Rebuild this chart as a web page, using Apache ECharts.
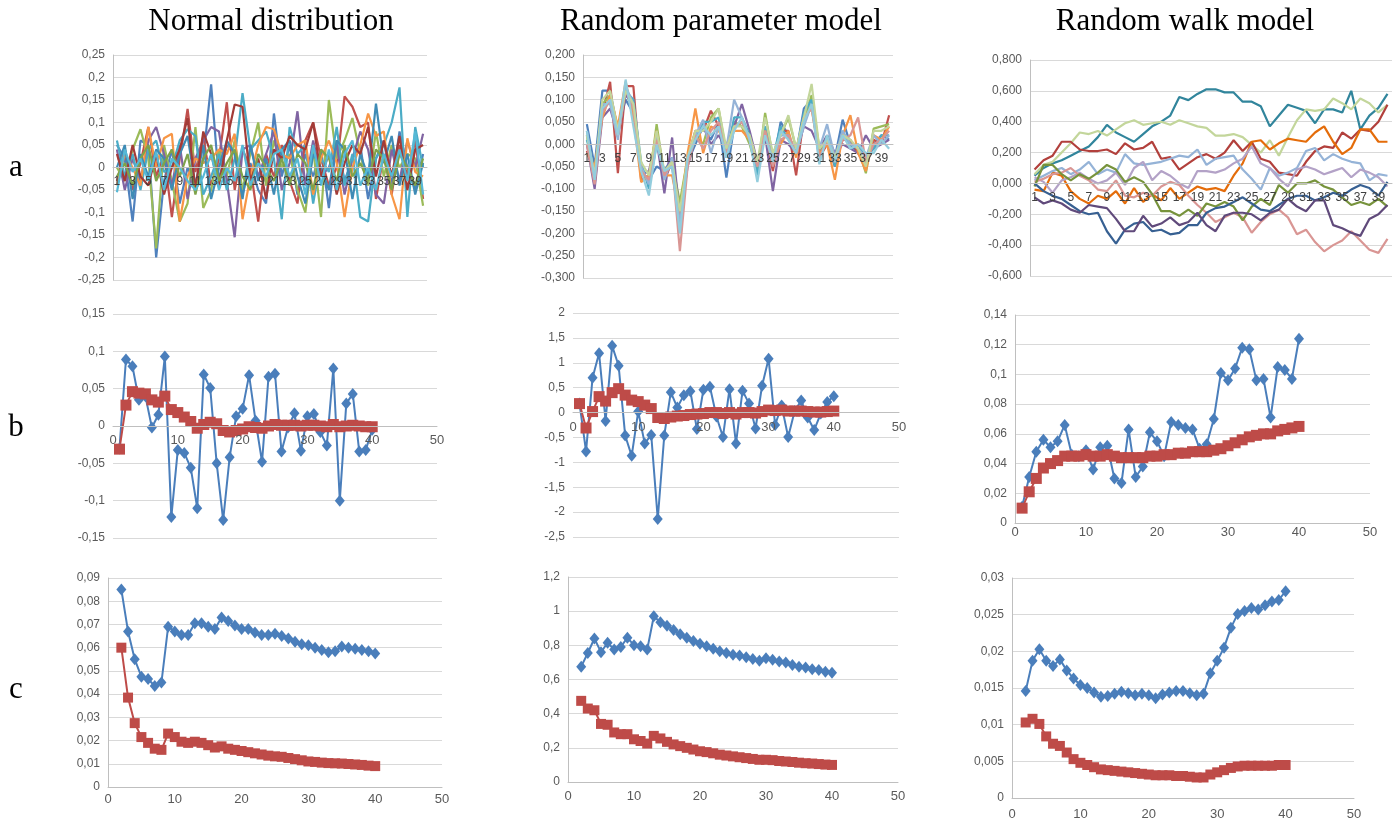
<!DOCTYPE html>
<html>
<head>
<meta charset="utf-8">
<script src="https://cdn.jsdelivr.net/npm/echarts@6/dist/echarts.min.js"></script>
<style>
  html, body { margin: 0; padding: 0; background: #fff; }
  #chart { width: 1395px; height: 821px; }
</style>
</head>
<body>
<div id="chart"></div>
<script>
// ---- categories / lags ----
var steps = ['1','2','3','4','5','6','7','8','9','10','11','12','13','14','15','16','17','18','19','20',
             '21','22','23','24','25','26','27','28','29','30','31','32','33','34','35','36','37','38','39','40'];
var lagsB = [1,2,3,4,5,6,7,8,9,10,11,12,13,14,15,16,17,18,19,20,21,22,23,24,25,26,27,28,29,30,31,32,33,34,35,36,37,38,39,40];
var lagsC = [2,3,4,5,6,7,8,9,10,11,12,13,14,15,16,17,18,19,20,21,22,23,24,25,26,27,28,29,30,31,32,33,34,35,36,37,38,39,40];

var titles = ['Normal distribution', 'Random parameter model', 'Random walk model'];
var rowNames = ['a', 'b', 'c'];

// ---- row a: simulated paths ----
var normA1 = [0.05,0.02,-0.12,0.06,0.05,-0.20,-0.03,0.04,-0.08,0.0,-0.04,0.02,0.185,-0.03,0.05,0.03,-0.06,0.01,-0.05,-0.08,0.12,-0.02,0.05,-0.06,0.03,-0.02,0.04,-0.09,0.06,-0.03,0.02,0.05,-0.07,0.02,0.06,-0.04,0.08,0.0,-0.05,0.03];
var normA2 = [-0.03,0.04,-0.05,0.01,0.09,-0.02,0.03,-0.11,0.02,0.13,-0.01,0.07,-0.04,0.02,0.145,-0.05,0.04,0.0,-0.12,0.03,-0.02,0.05,-0.03,-0.08,0.06,0.10,0.02,-0.04,0.0,0.158,0.135,0.09,0.10,-0.07,0.03,-0.06,0.05,-0.02,0.06,-0.07];
var normA3 = [0.0,-0.03,0.04,0.085,0.02,-0.18,0.05,-0.03,-0.12,-0.08,0.09,-0.09,-0.05,0.04,-0.02,0.06,-0.05,0.03,0.10,-0.04,0.06,0.0,0.03,-0.05,-0.10,0.04,-0.11,0.15,0.02,0.06,0.11,0.03,-0.04,0.08,-0.02,0.05,0.0,0.03,0.02,-0.085];
var normA4 = [0.04,-0.05,0.02,-0.03,0.06,0.09,0.03,-0.04,0.05,-0.07,0.02,0.06,0.09,0.08,-0.03,-0.155,0.04,0.05,-0.02,0.03,0.08,-0.05,0.01,0.125,-0.04,0.06,-0.02,0.0,0.05,-0.06,0.02,0.08,0.04,-0.06,-0.08,0.04,-0.03,0.06,0.0,0.075];
var normA5 = [0.06,-0.02,0.03,-0.05,0.04,0.06,-0.01,0.0,0.06,0.085,0.07,-0.06,-0.02,0.03,-0.05,0.02,0.165,0.04,0.06,0.08,0.02,-0.115,0.09,0.03,0.05,-0.08,0.02,-0.01,0.09,-0.04,0.03,-0.11,-0.12,0.02,0.05,0.10,0.178,-0.11,0.09,0.0];
var normA6 = [-0.04,0.03,0.0,-0.04,0.09,0.0,0.065,0.075,-0.12,-0.02,0.02,0.01,0.02,0.04,0.03,0.075,-0.115,-0.02,0.05,0.09,0.085,0.03,0.02,0.05,0.06,-0.06,0.02,0.06,0.01,-0.11,0.0,0.05,0.12,0.07,0.08,-0.06,-0.115,0.065,-0.01,-0.02];
var normA7 = [0.0,0.05,-0.07,0.03,-0.02,0.04,0.02,-0.05,0.03,0.07,-0.04,0.05,-0.07,0.0,0.06,0.03,-0.07,0.05,-0.03,0.02,-0.06,0.04,0.06,-0.02,-0.08,0.03,0.0,-0.05,0.06,0.04,-0.07,0.03,-0.02,0.142,0.01,0.07,-0.04,0.03,-0.06,0.01];
var normA8 = [0.03,-0.03,0.05,-0.02,-0.04,0.03,-0.06,0.0,0.04,0.11,-0.05,0.08,0.03,-0.04,0.06,0.14,0.135,-0.03,0.02,-0.07,0.04,0.02,0.07,0.05,0.04,0.10,-0.02,0.03,-0.06,0.01,0.05,0.03,0.09,-0.02,0.06,-0.02,0.07,-0.05,0.04,0.05];
var normA9 = [-0.02,0.01,-0.04,0.02,0.05,-0.03,0.01,0.04,-0.02,0.03,-0.06,0.02,0.05,-0.03,0.01,0.04,-0.02,-0.05,0.03,0.0,-0.03,0.02,-0.04,0.03,0.01,-0.05,0.04,0.02,-0.03,0.05,-0.02,0.01,-0.03,0.04,0.02,-0.05,0.03,0.0,-0.04,0.02];
var normA10 = [-0.055,0.04,-0.01,0.02,-0.03,0.035,-0.05,0.02,0.0,-0.03,-0.05,-0.02,0.03,-0.05,0.0,-0.03,0.05,-0.04,0.01,-0.02,0.03,0.04,-0.02,0.02,-0.06,0.05,-0.04,0.04,-0.05,0.03,0.06,-0.04,0.0,-0.05,0.03,-0.02,0.04,-0.03,0.08,-0.06];

var parA1 = [0.045,-0.05,0.12,0.12,0.03,0.10,0.07,-0.06,-0.08,-0.05,-0.06,-0.03,-0.15,-0.04,0.0,0.04,0.01,0.05,-0.075,0.04,0.05,0.02,-0.05,0.03,-0.05,0.05,0.02,-0.02,0.08,0.10,-0.02,0.01,-0.03,0.055,0.0,-0.02,-0.04,0.0,0.02,0.01];
var parA2 = [-0.015,-0.07,0.07,0.14,-0.065,0.13,0.13,-0.08,-0.07,0.02,-0.08,-0.04,-0.18,-0.03,0.03,0.03,0.075,0.04,-0.02,0.05,0.04,0.01,-0.05,0.02,-0.06,0.03,0.03,-0.07,0.06,0.09,-0.03,0.0,-0.05,0.01,0.01,-0.02,-0.05,0.01,0.0,0.065];
var parA3 = [0.02,-0.09,0.09,0.11,0.03,0.12,0.07,-0.05,-0.09,0.045,-0.07,-0.04,-0.13,-0.03,0.02,0.0,0.06,0.08,-0.02,0.05,0.04,0.0,-0.06,0.07,-0.03,0.02,0.06,-0.01,0.05,0.11,-0.01,0.0,-0.04,0.02,0.0,-0.01,-0.065,0.035,0.04,0.045];
var parA4 = [0.0,-0.10,0.06,0.08,0.02,0.11,0.09,-0.07,-0.06,0.01,-0.11,0.015,-0.17,-0.05,0.01,0.04,0.0,0.02,-0.01,0.04,0.09,0.03,-0.04,0.02,-0.105,0.01,0.0,-0.02,0.04,0.03,-0.01,0.02,-0.02,0.0,-0.01,-0.02,0.02,-0.01,0.0,0.01];
var parA5 = [0.01,-0.06,0.08,0.10,0.02,0.12,0.10,-0.04,-0.10,0.0,-0.06,-0.05,-0.19,-0.04,0.01,0.05,0.05,0.06,-0.03,0.06,0.06,0.02,-0.07,0.04,-0.03,0.04,0.01,-0.02,0.07,0.10,-0.04,0.02,-0.05,0.03,-0.01,0.0,-0.03,-0.01,0.02,0.02];
var parA6 = [-0.02,-0.05,0.06,0.11,0.04,0.14,0.06,-0.085,-0.07,0.03,-0.07,-0.07,-0.16,-0.02,0.08,-0.02,0.04,0.03,0.0,0.03,0.03,0.01,-0.04,0.03,-0.04,0.0,0.03,-0.03,0.06,0.08,-0.02,0.0,-0.08,0.02,0.065,-0.02,-0.06,0.02,0.01,0.04];
var parA7 = [0.03,-0.08,0.09,0.09,0.01,0.13,0.09,-0.05,-0.09,0.02,-0.08,-0.03,-0.18,-0.04,0.02,0.055,-0.02,0.04,-0.01,0.10,0.06,0.01,-0.05,0.02,-0.03,0.02,0.02,-0.02,0.04,0.09,-0.01,0.045,-0.03,0.03,0.0,-0.01,-0.03,0.02,0.0,0.02];
var parA8 = [0.0,-0.09,0.07,0.10,0.02,0.12,0.08,-0.06,-0.08,0.01,-0.07,-0.04,-0.24,-0.05,0.02,-0.01,0.03,0.05,-0.02,0.04,0.05,0.01,-0.05,0.03,-0.05,0.01,0.02,-0.02,0.06,0.08,-0.03,0.01,-0.04,0.01,0.02,0.06,-0.04,0.0,0.01,0.03];
var parA9 = [0.02,-0.07,0.10,0.12,0.03,0.12,0.09,-0.04,-0.07,0.03,-0.06,-0.04,-0.15,-0.03,0.03,0.03,0.05,0.08,-0.01,0.04,0.04,0.02,-0.04,0.06,-0.02,0.02,0.065,-0.01,0.06,0.135,-0.01,0.01,-0.03,0.02,0.01,-0.01,-0.05,0.03,0.03,0.04];
var parA10 = [0.03,-0.08,0.08,0.10,0.02,0.145,0.04,-0.06,-0.115,0.0,-0.06,-0.05,-0.20,-0.03,0.01,0.04,0.02,0.04,-0.03,0.03,0.06,0.01,-0.085,0.02,-0.04,0.03,0.01,-0.02,0.05,0.09,-0.045,0.02,-0.04,0.02,-0.01,0.0,-0.02,-0.02,0.01,-0.01];

var walkA1 = [0.05,0.10,0.13,0.15,0.18,0.21,0.24,0.30,0.38,0.33,0.30,0.27,0.32,0.37,0.40,0.44,0.56,0.54,0.58,0.61,0.61,0.59,0.59,0.53,0.53,0.50,0.37,0.44,0.51,0.49,0.47,0.39,0.48,0.48,0.46,0.60,0.35,0.44,0.49,0.58];
var walkA2 = [0.06,0.12,0.14,0.20,0.26,0.33,0.32,0.34,0.31,0.35,0.39,0.41,0.38,0.39,0.40,0.38,0.41,0.39,0.37,0.36,0.31,0.31,0.32,0.30,0.25,0.20,0.28,0.18,0.30,0.41,0.48,0.47,0.48,0.55,0.52,0.48,0.55,0.52,0.46,0.51];
var walkA3 = [0.09,0.15,0.18,0.27,0.27,0.22,0.21,0.21,0.22,0.19,0.26,0.22,0.23,0.27,0.16,0.17,0.09,0.13,0.17,0.19,0.16,0.20,0.28,0.21,0.27,0.16,0.14,0.07,0.06,0.05,0.14,0.21,0.24,0.23,0.33,0.29,0.35,0.34,0.40,0.51];
var walkA4 = [-0.04,-0.05,0.07,0.05,-0.05,-0.10,-0.13,-0.08,-0.10,-0.05,-0.13,-0.03,-0.12,-0.07,-0.11,-0.03,-0.10,-0.06,-0.02,-0.04,-0.03,-0.05,0.05,0.13,0.27,0.28,0.22,0.26,0.29,0.28,0.27,0.33,0.37,0.27,0.19,0.23,0.35,0.35,0.27,0.27];
var walkA5 = [0.02,0.05,0.08,0.10,0.06,0.09,0.14,0.06,0.09,0.07,0.19,0.13,0.12,0.13,0.14,0.16,0.18,0.17,0.22,0.12,0.16,0.17,0.18,0.09,0.03,-0.04,0.10,0.05,0.07,0.10,0.21,0.23,0.15,0.19,0.16,0.14,0.13,0.02,0.06,0.05];
var walkA6 = [0.04,0.01,-0.06,0.02,0.04,0.07,0.03,0.0,0.02,0.07,-0.01,0.10,0.14,0.02,0.08,0.05,0.0,-0.03,0.08,0.08,0.07,0.09,0.13,0.16,0.24,0.13,0.10,0.03,-0.02,0.09,0.11,0.09,0.06,0.08,0.10,0.04,0.09,0.07,0.04,-0.02];
var walkA7 = [0.01,0.03,0.06,0.07,0.10,0.05,0.02,-0.04,-0.05,0.02,-0.08,-0.09,-0.06,-0.08,-0.02,0.01,-0.01,-0.08,-0.14,-0.19,-0.25,-0.22,-0.19,-0.22,-0.32,-0.25,-0.20,-0.17,-0.22,-0.33,-0.30,-0.38,-0.44,-0.40,-0.37,-0.31,-0.37,-0.43,-0.45,-0.36];
var walkA8 = [-0.02,0.12,0.12,0.06,0.02,0.06,0.03,0.07,0.12,0.09,0.01,0.04,0.01,-0.07,-0.18,-0.18,-0.21,-0.17,-0.21,-0.13,-0.15,-0.12,-0.15,-0.24,-0.15,-0.10,-0.14,-0.01,-0.06,0.0,0.0,0.02,-0.02,-0.04,-0.09,-0.14,-0.12,-0.14,-0.10,-0.15];
var walkA9 = [0.0,-0.05,-0.08,-0.10,-0.14,-0.18,-0.20,-0.19,-0.31,-0.39,-0.30,-0.26,-0.25,-0.31,-0.30,-0.33,-0.32,-0.27,-0.27,-0.19,-0.16,-0.15,-0.12,-0.09,-0.13,-0.17,-0.18,-0.14,-0.10,-0.08,-0.08,-0.11,-0.09,-0.06,-0.08,-0.04,-0.01,-0.03,-0.08,0.01];
var walkA10 = [-0.09,-0.13,-0.11,-0.13,-0.17,-0.19,-0.14,-0.15,-0.16,-0.23,-0.31,-0.31,-0.21,-0.28,-0.26,-0.22,-0.27,-0.25,-0.19,-0.27,-0.31,-0.21,-0.19,-0.19,-0.20,-0.24,-0.19,-0.17,-0.10,-0.15,-0.18,-0.11,-0.11,-0.27,-0.29,-0.32,-0.34,-0.23,-0.20,-0.14];

// ---- row b ----
var normB_blue = [-0.03,0.089,0.08,0.035,0.04,-0.002,0.015,0.093,-0.122,-0.032,-0.036,-0.056,-0.11,0.069,0.051,-0.05,-0.126,-0.042,0.013,0.023,0.068,0.007,-0.048,0.066,0.07,-0.034,-0.002,0.017,-0.033,0.013,0.016,-0.008,-0.026,0.077,-0.1,0.03,0.043,-0.034,-0.032,-0.005];
var normB_red = [-0.031,0.028,0.046,0.044,0.043,0.035,0.032,0.04,0.022,0.018,0.012,0.006,-0.003,0.002,0.005,0.003,-0.006,-0.008,-0.006,-0.004,-0.001,-0.002,-0.003,0.0,0.002,0.001,0.001,0.001,0.0,0.001,0.001,0.0,-0.001,0.002,-0.001,0.0,0.001,0.0,-0.001,-0.001];
var parB_blue = [0.18,-0.78,0.7,1.19,-0.17,1.34,0.94,-0.46,-0.87,0.02,-0.62,-0.45,-2.14,-0.46,0.41,0.1,0.35,0.43,-0.33,0.46,0.52,-0.08,-0.49,0.47,-0.62,0.44,0.18,-0.32,0.54,1.08,-0.25,0.14,-0.49,0.03,0.24,-0.1,-0.35,-0.02,0.21,0.33];
var parB_red = [0.18,-0.31,0.02,0.32,0.23,0.4,0.48,0.35,0.25,0.22,0.15,0.08,-0.1,-0.12,-0.09,-0.07,-0.06,-0.04,-0.03,-0.02,0.0,0.0,-0.02,0.0,-0.03,0.0,0.0,-0.01,0.02,0.05,0.04,0.05,0.03,0.03,0.03,0.02,0.01,0.01,0.02,0.03];
var walkB_blue = [0.011,0.031,0.048,0.056,0.051,0.055,0.066,0.046,0.045,0.049,0.036,0.051,0.052,0.03,0.027,0.063,0.031,0.038,0.061,0.055,0.045,0.068,0.066,0.064,0.063,0.05,0.053,0.07,0.101,0.096,0.104,0.118,0.117,0.096,0.097,0.071,0.105,0.103,0.097,0.124];
var walkB_red = [0.01,0.021,0.03,0.037,0.04,0.042,0.045,0.045,0.045,0.046,0.045,0.045,0.046,0.045,0.044,0.044,0.044,0.044,0.045,0.045,0.046,0.046,0.047,0.047,0.048,0.048,0.048,0.049,0.05,0.052,0.054,0.056,0.058,0.059,0.06,0.06,0.062,0.063,0.064,0.065];

// ---- row c ----
var normC_blue = [0.085,0.067,0.055,0.0475,0.0465,0.0435,0.045,0.069,0.067,0.0655,0.0655,0.0705,0.0705,0.069,0.068,0.073,0.0715,0.0695,0.068,0.068,0.0665,0.0655,0.0655,0.066,0.065,0.064,0.0625,0.0615,0.061,0.06,0.059,0.058,0.0585,0.0605,0.06,0.0595,0.059,0.0585,0.0575];
var normC_red = [0.06,0.0385,0.0275,0.0215,0.019,0.0165,0.016,0.023,0.0215,0.0195,0.019,0.0195,0.019,0.018,0.017,0.0175,0.0165,0.016,0.0155,0.015,0.0145,0.014,0.0135,0.0132,0.013,0.0125,0.012,0.0115,0.011,0.0108,0.0105,0.0103,0.0102,0.0101,0.0099,0.0097,0.0095,0.0092,0.009];
var parC_blue = [0.675,0.755,0.84,0.76,0.815,0.775,0.79,0.845,0.8,0.795,0.775,0.97,0.935,0.915,0.89,0.865,0.845,0.825,0.81,0.795,0.78,0.765,0.755,0.745,0.74,0.73,0.72,0.71,0.725,0.715,0.705,0.7,0.685,0.675,0.67,0.66,0.655,0.645,0.64];
var parC_red = [0.475,0.43,0.42,0.34,0.335,0.29,0.28,0.28,0.25,0.24,0.225,0.27,0.255,0.235,0.22,0.21,0.2,0.19,0.18,0.175,0.168,0.16,0.155,0.15,0.145,0.14,0.135,0.13,0.13,0.128,0.123,0.12,0.117,0.113,0.11,0.108,0.105,0.102,0.1];
var walkC_blue = [0.0146,0.0187,0.0203,0.0187,0.018,0.0189,0.0174,0.0163,0.0154,0.015,0.0144,0.0138,0.0139,0.0142,0.0145,0.0143,0.014,0.0142,0.014,0.0136,0.0141,0.0144,0.0146,0.0146,0.0143,0.014,0.0142,0.017,0.0187,0.0205,0.0232,0.0251,0.0255,0.0259,0.0257,0.0263,0.0268,0.027,0.0282];
var walkC_red = [0.0103,0.0108,0.0101,0.0084,0.0074,0.0071,0.0062,0.0053,0.0048,0.0045,0.0042,0.0039,0.0038,0.0037,0.0036,0.0035,0.0034,0.0033,0.0032,0.0031,0.0031,0.0031,0.003,0.003,0.0029,0.0028,0.0028,0.0032,0.0035,0.0038,0.0041,0.0043,0.0044,0.0044,0.0044,0.0044,0.0044,0.0045,0.0045];

var BLUE = '#4a7ebb', RED = '#be4b48';
var colorsNorm = ['#4F81BD','#C0504D','#9BBB59','#8064A2','#4BACC6','#F79646','#3E8BB5','#A23B37','#7FA34A','#56B9D6'];
var colorsPar  = ['#4F81BD','#C0504D','#9BBB59','#8064A2','#4BACC6','#F79646','#95B3D7','#D99694','#C3D69B','#93CDDD'];
var colorsWalk = ['#31859C','#C3D69B','#B2403C','#E46C0A','#95B3D7','#B3A2C7','#D99694','#77933C','#376092','#604A7B'];

var chart = echarts.init(document.getElementById('chart'));

function general(v) {
    var s = String(parseFloat(v.toFixed(6)));
    return s.replace('.', ',');
}
function fixed3(v) {
    if (Math.abs(v) < 1e-9) v = 0;
    return v.toFixed(3).replace('.', ',');
}

var grids = [
    {left: 113, top: 55, width: 314, height: 225},
    {left: 583, top: 55, width: 310, height: 223},
    {left: 1030, top: 60, width: 362, height: 216},
    {left: 113, top: 314, width: 324, height: 224},
    {left: 573, top: 313, width: 326, height: 224},
    {left: 1015, top: 315, width: 355, height: 208},
    {left: 108, top: 578, width: 334, height: 209},
    {left: 568, top: 577, width: 330, height: 205},
    {left: 1012, top: 578, width: 342, height: 221}
];

// min, max, interval, label formatter, show vertical axis line
var yCfg = [
    [-0.25, 0.25, 0.05, general, true],
    [-0.3, 0.2, 0.05, fixed3, true],
    [-0.6, 0.8, 0.2, fixed3, true],
    [-0.15, 0.15, 0.05, general, false],
    [-2.5, 2, 0.5, general, false],
    [0, 0.14, 0.02, general, true],
    [0, 0.09, 0.01, general, true],
    [0, 1.2, 0.2, general, true],
    [0, 0.03, 0.005, general, true]
];
var xMargins = [8, 8, 8, 8, 8, 3, 6, 8, 10];

var xAxes = [], yAxes = [];
yCfg.forEach(function (c, i) {
    yAxes.push({
        type: 'value', gridIndex: i, min: c[0], max: c[1], interval: c[2],
        axisLine: {show: c[4], lineStyle: {color: '#bfbfbf'}},
        axisTick: {show: false},
        axisLabel: {formatter: c[3], color: '#595959', fontSize: 12, fontFamily: 'Liberation Sans', margin: 8},
        splitLine: {lineStyle: {color: '#d9d9d9'}}
    });
    // horizontal axis sits on the zero line (labels too, as in Excel)
    var zeroShift = c[0] < 0 ? -grids[i].height * (-c[0]) / (c[1] - c[0]) : 0;
    if (i < 3) {
        xAxes.push({
            type: 'category', gridIndex: i, data: steps, offset: zeroShift, z: 5,
            axisLine: {onZero: false, lineStyle: {color: '#bfbfbf'}},
            axisTick: {show: false},
            axisLabel: {interval: 1, color: '#404040', fontSize: 12, fontFamily: 'Liberation Sans', margin: 8}
        });
    } else {
        xAxes.push({
            type: 'value', gridIndex: i, min: 0, max: 50, interval: 10, offset: zeroShift, z: 5,
            axisLine: {onZero: false, lineStyle: {color: '#bfbfbf'}},
            axisTick: {show: false},
            splitLine: {show: false},
            axisLabel: {color: '#595959', fontSize: 13, fontFamily: 'Liberation Sans', margin: xMargins[i]}
        });
    }
});

var series = [];
function addPaths(idx, list, colors) {
    list.forEach(function (arr, k) {
        series.push({
            type: 'line', xAxisIndex: idx, yAxisIndex: idx, data: arr,
            symbol: 'none', lineStyle: {width: 2.2, color: colors[k]},
            itemStyle: {color: colors[k]}, silent: true
        });
    });
}
addPaths(0, [normA1, normA2, normA3, normA4, normA5, normA6, normA7, normA8, normA9, normA10], colorsNorm);
addPaths(1, [parA1, parA2, parA3, parA4, parA5, parA6, parA7, parA8, parA9, parA10], colorsPar);
addPaths(2, [walkA1, walkA2, walkA3, walkA4, walkA5, walkA6, walkA7, walkA8, walkA9, walkA10], colorsWalk);

function pairs(xs, ys) {
    return xs.map(function (x, i) { return [x, ys[i]]; });
}
function addPair(idx, xs, blue, red, redSize) {
    series.push({
        type: 'line', xAxisIndex: idx, yAxisIndex: idx, data: pairs(xs, blue),
        symbol: 'diamond', symbolSize: [10, 12], lineStyle: {width: 2, color: BLUE},
        itemStyle: {color: BLUE}, silent: true
    });
    series.push({
        type: 'line', xAxisIndex: idx, yAxisIndex: idx, data: pairs(xs, red),
        symbol: 'rect', symbolSize: redSize, lineStyle: {width: 2, color: RED},
        itemStyle: {color: RED}, silent: true
    });
}
addPair(3, lagsB, normB_blue, normB_red, 11);
addPair(4, lagsB, parB_blue, parB_red, 11);
addPair(5, lagsB, walkB_blue, walkB_red, 11);
addPair(6, lagsC, normC_blue, normC_red, 10);
addPair(7, lagsC, parC_blue, parC_red, 10);
addPair(8, lagsC, walkC_blue, walkC_red, 10);

// titles and row letters
var graphics = [];
var titleX = [271, 721, 1185];
titles.forEach(function (t, i) {
    graphics.push({type: 'text', x: titleX[i], y: 22, style: {
        text: t, font: '31px "Liberation Serif"', fill: '#000', textAlign: 'center', textVerticalAlign: 'middle'}});
});
var rowY = [168, 428, 690];
rowNames.forEach(function (t, i) {
    graphics.push({type: 'text', x: 16, y: rowY[i], style: {
        text: t, font: '31px "Liberation Serif"', fill: '#000', textAlign: 'center', textVerticalAlign: 'middle'}});
});

chart.setOption({
    backgroundColor: '#fff',
    animation: false,
    grid: grids,
    xAxis: xAxes,
    yAxis: yAxes,
    series: series,
    graphic: graphics
});
</script>
</body>
</html>
